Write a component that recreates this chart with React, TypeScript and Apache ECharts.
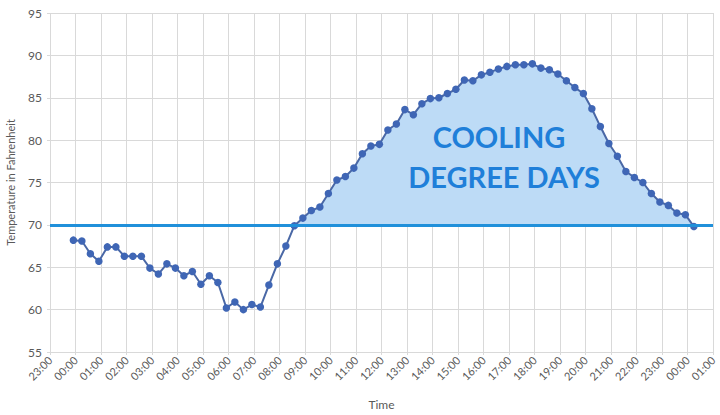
import * as echarts from "echarts";
import { useEffect, useRef } from "react";

// hour ticks along the x axis, from 23:00 the evening before to 01:00 the morning after
const hourLabels = [
  "23:00", "00:00", "01:00", "02:00", "03:00", "04:00", "05:00", "06:00", "07:00",
  "08:00", "09:00", "10:00", "11:00", "12:00", "13:00", "14:00", "15:00", "16:00",
  "17:00", "18:00", "19:00", "20:00", "21:00", "22:00", "23:00", "00:00", "01:00"
];

const readingTimes = [
  "23:55", "00:15", "00:35", "00:55", "01:15", "01:35", "01:55", "02:15", "02:35", "02:55",
  "03:15", "03:35", "03:55", "04:15", "04:35", "04:55", "05:15", "05:35", "05:55", "06:15",
  "06:35", "06:55", "07:15", "07:35", "07:55", "08:15", "08:35", "08:55", "09:15", "09:35",
  "09:55", "10:15", "10:35", "10:55", "11:15", "11:35", "11:55", "12:15", "12:35", "12:55",
  "13:15", "13:35", "13:55", "14:15", "14:35", "14:55", "15:15", "15:35", "15:55", "16:15",
  "16:35", "16:55", "17:15", "17:35", "17:55", "18:15", "18:35", "18:55", "19:15", "19:35",
  "19:55", "20:15", "20:35", "20:55", "21:15", "21:35", "21:55", "22:15", "22:35", "22:55",
  "23:15", "23:35", "23:55", "00:15"
];

const temperatures = [
  68.2, 68.1, 66.6, 65.7, 67.4, 67.4, 66.3, 66.3, 66.3, 64.9,
  64.2, 65.4, 64.9, 64.0, 64.5, 63.0, 64.0, 63.2, 60.2, 60.9,
  60.0, 60.6, 60.3, 62.9, 65.4, 67.5, 69.9, 70.8, 71.7, 72.1,
  73.7, 75.3, 75.7, 76.7, 78.4, 79.3, 79.5, 81.2, 81.9, 83.6,
  83.0, 84.3, 84.9, 85.0, 85.5, 86.0, 87.1, 87.0, 87.7, 88.0,
  88.4, 88.7, 88.9, 88.9, 89.0, 88.5, 88.3, 87.8, 87.0, 86.2,
  85.5, 83.7, 81.6, 79.6, 78.1, 76.3, 75.6, 75.0, 73.7, 72.7,
  72.3, 71.4, 71.2, 69.8
];

const baseTemperature = 70;
const areaLabel = ["COOLING", "DEGREE DAYS"];

const labelColor = "#595959";
const gridColor = "#d9d9d9";
const fontFamily = "Lato, sans-serif";

// minutes after 23:00 of the first evening, rolling over midnight as needed
function toAxisMinutes(times: string[]): number[] {
  let prev = -Infinity;
  return times.map((t) => {
    const [h, m] = t.split(":").map(Number);
    let rel = h * 60 + m - 23 * 60;
    while (rel < prev) rel += 24 * 60;
    prev = rel;
    return rel;
  });
}

function buildOption(): echarts.EChartsOption {
  const minutes = toAxisMinutes(readingTimes);
  const points = minutes.map((x, i) => [x, temperatures[i]]);
  const above = minutes.map((x, i) => [x, Math.max(temperatures[i], baseTemperature)]);

  return {
    animation: false,
    grid: { left: 50, right: 7, top: 13, bottom: 63, outerBoundsMode: "none" } as any,
    xAxis: {
      type: "value",
      min: 0,
      max: (hourLabels.length - 1) * 60,
      interval: 60,
      name: "Time",
      nameLocation: "middle",
      nameGap: 46,
      nameTextStyle: { color: labelColor, fontSize: 12, fontFamily },
      axisLine: { show: false },
      axisTick: { show: true, length: 3, lineStyle: { color: gridColor } },
      axisLabel: {
        rotate: 45,
        color: labelColor,
        fontSize: 11,
        fontFamily,
        margin: 6,
        formatter: (v: number) => hourLabels[Math.round(v / 60)] ?? ""
      },
      splitLine: { show: true, lineStyle: { color: gridColor, width: 1 } }
    },
    yAxis: {
      type: "value",
      min: 55,
      max: 95,
      interval: 5,
      name: "Temperature in Fahrenheit",
      nameLocation: "middle",
      nameGap: 34,
      nameTextStyle: { color: labelColor, fontSize: 11, fontFamily },
      axisLine: { show: false },
      axisTick: { show: true, length: 3, lineStyle: { color: gridColor } },
      axisLabel: { color: labelColor, fontSize: 12, fontFamily, margin: 8 },
      splitLine: { lineStyle: { color: gridColor, width: 1 } }
    },
    graphic: [
      {
        type: "text",
        z: 100,
        x: 499,
        y: 136,
        style: {
          text: areaLabel[0],
          fill: "#1f7fd9",
          font: `bold 29px ${fontFamily}`,
          align: "center",
          verticalAlign: "middle"
        }
      },
      {
        type: "text",
        z: 100,
        x: 504,
        y: 176,
        style: {
          text: areaLabel[1],
          fill: "#1f7fd9",
          font: `bold 29px ${fontFamily}`,
          align: "center",
          verticalAlign: "middle"
        }
      }
    ],
    series: [
      {
        type: "line",
        name: "cooling",
        data: above,
        showSymbol: false,
        silent: true,
        lineStyle: { width: 0, opacity: 0 },
        areaStyle: { color: "#bddbf6", opacity: 1, origin: baseTemperature },
        z: 1
      },
      {
        type: "line",
        name: "base",
        data: [],
        markLine: {
          silent: true,
          symbol: "none",
          label: { show: false },
          lineStyle: { color: "#2090da", width: 3, type: "solid" },
          data: [{ yAxis: baseTemperature }]
        },
        z: 2
      },
      {
        type: "line",
        name: "temperature",
        data: points,
        symbol: "circle",
        symbolSize: 7.5,
        showSymbol: true,
        lineStyle: { color: "#4a68a6", width: 2 },
        itemStyle: { color: "#3f66b5" },
        z: 3
      }
    ]
  };
}

export default function App() {
  const ref = useRef<HTMLDivElement | null>(null);

  useEffect(() => {
    if (!ref.current) return;
    document.body.style.margin = "0";
    const chart = echarts.init(ref.current, undefined, { renderer: "svg" });
    chart.setOption(buildOption());
    return () => chart.dispose();
  }, []);

  return <div ref={ref} style={{ width: 720, height: 415, background: "#fff" }} />;
}
